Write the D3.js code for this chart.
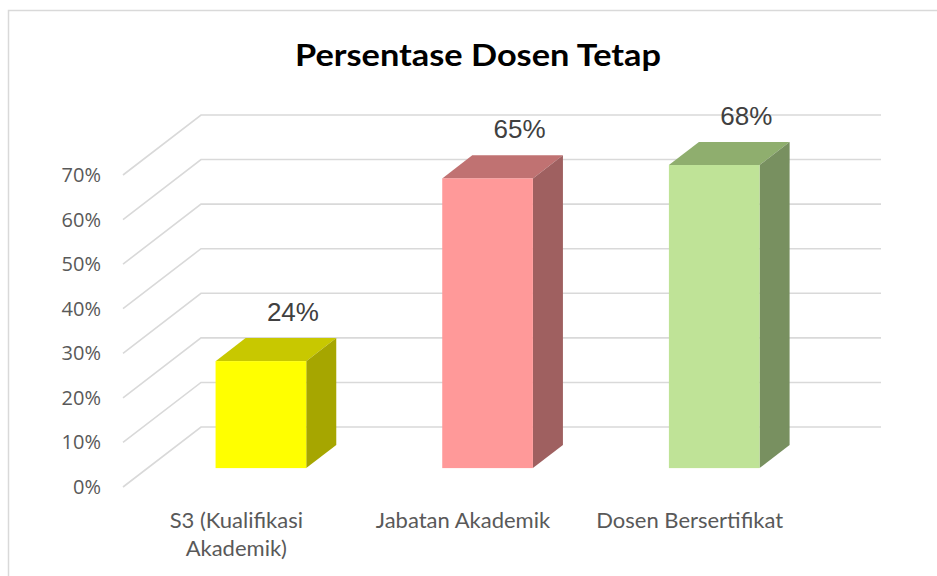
<!DOCTYPE html>
<html>
<head>
<meta charset="utf-8">
<script src="https://cdn.jsdelivr.net/npm/d3@7"></script>
<style>
  html, body { margin: 0; padding: 0; background: #fff; }
  svg { display: block; }
</style>
</head>
<body>
<svg id="chart" width="937" height="576"></svg>
<script>
// ---- data ----
const chartTitle = "Persentase Dosen Tetap";
const categories = ["S3 (Kualifikasi Akademik)", "Jabatan Akademik", "Dosen Bersertifikat"];
const values = [0.24, 0.65, 0.68];
const dataLabels = ["24%", "65%", "68%"];
const yTicks = [0, 0.1, 0.2, 0.3, 0.4, 0.5, 0.6, 0.7];
const frontColors = ["#ffff00", "#ff9999", "#bfe397"];
const topColors = ["#c8c800", "#c07272", "#8fae6e"];
const sideColors = ["#a6a600", "#9f6060", "#789060"];

// ---- layout ----
const svg = d3.select("#chart");
const floorFrontLeft = 123, floorFrontY = 487;
const floorWidth = 680;
const depthDX = 78, depthDY = -60;
const barDepthStart = 0.315, barDepthEnd = 0.70;

svg.append("rect").attr("x", 8.5).attr("y", 10.5).attr("width", 940).attr("height", 580)
  .attr("fill", "#fff").attr("stroke", "#d9d9d9").attr("stroke-width", 1.5);

const x = d3.scaleBand().domain(categories).range([0, floorWidth]).paddingInner(0.6).paddingOuter(0.3);
const h = d3.scaleLinear().domain([0, 0.7]).range([0, 312]);
const fmt = d3.format(".0%");

// gridlines (front -> back wall -> right)
const grid = svg.append("g");
yTicks.forEach(v => {
  const yf = floorFrontY - h(v);
  const yb = yf + depthDY;
  grid.append("polyline")
    .attr("points", [[floorFrontLeft, yf], [floorFrontLeft + depthDX, yb], [floorFrontLeft + depthDX + floorWidth, yb]].map(p => p.join(",")).join(" "))
    .attr("fill", "none").attr("stroke", "#d9d9d9").attr("stroke-width", 1.6);
});

// y axis labels
svg.append("g").selectAll("text").data(yTicks).join("text")
  .attr("x", 101).attr("y", v => floorFrontY - h(v))
  .attr("dy", "0.35em").attr("text-anchor", "end")
  .attr("font-family", "'Open Sans', sans-serif").attr("font-size", 20)
  .attr("fill", "#595959").text(v => fmt(v));

// bars
const bars = svg.append("g");
const ddx0 = barDepthStart * depthDX, ddy0 = barDepthStart * depthDY;
const bdx = (barDepthEnd - barDepthStart) * depthDX, bdy = (barDepthEnd - barDepthStart) * depthDY;
categories.forEach((c, i) => {
  const x0 = floorFrontLeft + x(c) + ddx0;
  const x1 = x0 + x.bandwidth();
  const yB = floorFrontY + ddy0;
  const yT = yB - h(values[i]);
  const g = bars.append("g");
  g.append("polygon")
    .attr("points", [[x0, yT], [x1, yT], [x1 + bdx, yT + bdy], [x0 + bdx, yT + bdy]].map(p => p.join(",")).join(" "))
    .attr("fill", topColors[i]);
  g.append("polygon")
    .attr("points", [[x1, yT], [x1, yB], [x1 + bdx, yB + bdy], [x1 + bdx, yT + bdy]].map(p => p.join(",")).join(" "))
    .attr("fill", sideColors[i]);
  g.append("rect").attr("x", x0).attr("y", yT).attr("width", x.bandwidth()).attr("height", yB - yT)
    .attr("fill", frontColors[i]);
  g.append("text")
    .attr("x", x0 + bdx + x.bandwidth() / 2 + 2).attr("y", yT + bdy - 17)
    .attr("text-anchor", "middle")
    .attr("font-family", "'Liberation Sans', Arial, sans-serif").attr("font-size", 26)
    .attr("fill", "#404040").text(dataLabels[i]);
});

// category labels (wrapped)
const catG = svg.append("g");
categories.forEach(c => {
  const cx = floorFrontLeft + x(c) + x.bandwidth() / 2;
  const t = catG.append("text").attr("text-anchor", "middle")
    .attr("font-family", "Lato, 'Open Sans', sans-serif").attr("font-size", 22)
    .attr("fill", "#595959");
  const words = c.split(" ");
  let line = [], lineNo = 0;
  let tspan = t.append("tspan").attr("x", cx).attr("y", 528);
  words.forEach(w => {
    line.push(w);
    tspan.text(line.join(" "));
    if (tspan.node().getComputedTextLength() > 205 && line.length > 1) {
      line.pop();
      tspan.text(line.join(" "));
      line = [w];
      lineNo++;
      tspan = t.append("tspan").attr("x", cx).attr("y", 528 + lineNo * 28).text(w);
    }
  });
});

// title
svg.append("text").attr("x", 478).attr("y", 66).attr("text-anchor", "middle")
  .attr("font-family", "Lato, 'Open Sans', sans-serif").attr("font-weight", "bold")
  .attr("font-size", 31).attr("fill", "#000")
  .attr("textLength", 366).attr("lengthAdjust", "spacingAndGlyphs")
  .text(chartTitle);
</script>
</body>
</html>
